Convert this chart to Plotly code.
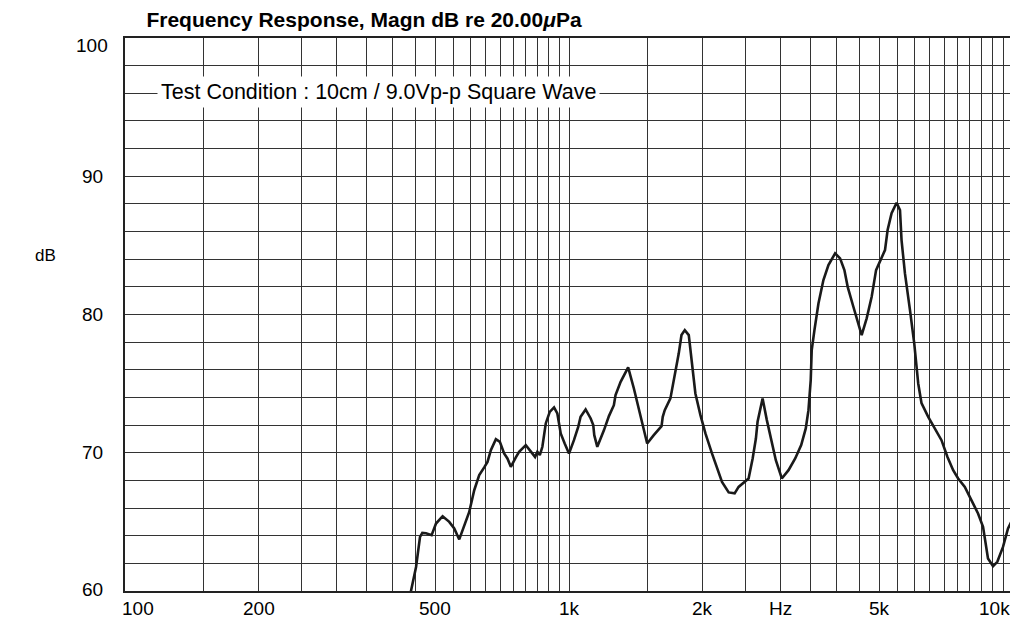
import math
import plotly.graph_objects as go

# ---- data ----
freq_hz = [434, 441, 452.4, 461.8, 467.4, 476.4, 490.4, 501.7, 519.2, 537.4, 551.5, 566.0,
           596.1, 611.7, 627.8, 644.2, 655.3, 666.8, 684.4, 698.7, 714.3, 726.6, 739.6,
           759.0, 772.0, 799.3, 817.3, 838.7, 848.8, 859.5, 871.0, 886.5, 905.0, 925.4,
           941.3, 957.9, 977.9, 1000, 1026, 1049, 1062, 1090, 1119, 1134, 1140, 1158,
           1199, 1230, 1262, 1273, 1307, 1359, 1400, 1449, 1500, 1552, 1616, 1626, 1643,
           1692, 1730, 1767, 1792, 1823, 1861, 1887, 1926, 1977, 2029, 2099, 2166, 2211,
           2289, 2361, 2410, 2474, 2538, 2592, 2636, 2659, 2729, 2790, 2863, 2923, 3015,
           3122, 3232, 3334, 3414, 3462, 3503, 3521, 3571, 3646, 3741, 3840, 3975, 4079,
           4171, 4243, 4370, 4485, 4562, 4682, 4805, 4916, 5018, 5149, 5219, 5328, 5468,
           5565, 5610, 5710, 5861, 5992, 6117, 6222, 6442, 6668, 6901, 7119, 7332, 7524,
           7789, 8059, 8342, 8561, 8664, 8784, 9017, 9219, 9495, 9745, 10000]
magn_db = [59.0, 60.0, 61.74, 63.91, 64.2, 64.18, 64.04, 64.88, 65.41, 65.0, 64.52, 63.73,
           65.72, 67.29, 68.38, 68.94, 69.34, 70.19, 70.98, 70.79, 69.95, 69.59, 68.98,
           69.66, 70.07, 70.55, 70.19, 69.70, 70.07, 69.83, 70.43, 72.12, 72.96, 73.28,
           72.84, 71.4, 70.67, 69.95, 70.91, 71.87, 72.6, 73.13, 72.48, 72.0, 71.27, 70.43,
           71.64, 72.65, 73.44, 74.17, 75.13, 76.17, 74.65, 72.72, 70.67, 71.27, 71.92, 72.6,
           73.08, 73.93, 75.49, 77.19, 78.51, 78.87, 78.51, 76.7, 74.29, 72.72, 71.4, 69.95,
           68.62, 67.89, 67.13, 67.06, 67.53, 67.82, 68.14, 69.59, 71.03, 72.24, 73.93, 72.36,
           70.67, 69.46, 68.14, 68.74, 69.59, 70.55, 71.76, 73.08, 75.25, 77.42, 78.87, 80.8,
           82.49, 83.57, 84.42, 84.06, 83.21, 82.0, 80.56, 79.23, 78.51, 79.72, 81.28, 83.21,
           83.81, 84.66, 86.11, 87.32, 88.08, 87.55, 85.38, 82.97, 80.32, 77.91, 75.01, 73.59,
           72.6, 71.76, 70.91, 69.70, 68.74, 68.14, 67.53, 66.57, 65.61, 64.64, 63.44, 62.35,
           61.79, 62.11, 63.19, 64.52, 65.25]

grid_freqs = ([f for f in range(100, 1001, 50)] + [1500] +
              [f for f in range(2000, 10001, 500)])
x_tick_vals = [100, 200, 500, 1000, 2000, 3000, 5000, 10000]
x_tick_text = ["100", "200", "500", "1k", "2k", "Hz", "5k", "10k"]
y_tick_vals = [100, 90, 80, 70, 60]
y_tick_text = ["100", "90", "80", "70", "60"]

title_text = "<b>Frequency Response, Magn dB re 20.00<i>μ</i>Pa</b>"
note_text = "Test Condition : 10cm / 9.0Vp-p Square Wave"

FONT = "Liberation Sans, Arial, Helvetica, sans-serif"

# the html page adds an 8 px body margin, so the figure is drawn 8 px in
OFF = 8
W, H = 1018 - OFF, 618 - OFF

fig = go.Figure()
fig.add_trace(go.Scatter(
    x=freq_hz, y=magn_db, mode="lines",
    line=dict(color="#1a1a1a", width=2.6),
    hoverinfo="skip", showlegend=False))

fig.update_layout(
    width=W, height=H,
    margin=dict(l=125 - OFF, r=W - (1015 - OFF), t=38 - OFF, b=H - (591 - OFF)),
    paper_bgcolor="white", plot_bgcolor="white",
    font=dict(family=FONT, color="black", size=19),
    title=dict(text=title_text, xref="container", yref="container",
               x=(364 - OFF) / W, xanchor="center", y=1 - (20 - OFF) / H,
               yanchor="middle",
               font=dict(family=FONT, size=21, color="black")),
    showlegend=False,
)
fig.update_xaxes(
    type="log", range=[2, 4],
    tickvals=grid_freqs, showticklabels=False, ticks="",
    showgrid=True, gridcolor="#333333", gridwidth=1.2,
    showline=True, linecolor="#222222", linewidth=1.6, mirror=True,
    zeroline=False)
fig.update_yaxes(
    range=[60, 100], dtick=2, tick0=60,
    showticklabels=False, ticks="",
    showgrid=True, gridcolor="#333333", gridwidth=1.2,
    showline=True, linecolor="#222222", linewidth=1.6, mirror=True,
    zeroline=False)

annotations = []
# x tick labels
for v, t in zip(x_tick_vals, x_tick_text):
    anchor = "center"
    xs = 0
    if v == x_tick_vals[0]:
        anchor, xs = "left", -5
    elif v == x_tick_vals[-1]:
        anchor, xs = "right", -1
    annotations.append(dict(
        x=math.log10(v), xref="x", y=0, yref="paper",
        text=t, showarrow=False, xanchor=anchor, yanchor="top",
        xshift=xs, yshift=-5, font=dict(size=19)))
# y tick labels
for v, t in zip(y_tick_vals, y_tick_text):
    ys = 0
    if v == y_tick_vals[0]:
        ys = -7
    elif v == y_tick_vals[-1]:
        ys = 2
    annotations.append(dict(
        x=(92 - 125) / 890, xref="paper", y=v, yref="y",
        text=t, showarrow=False, xanchor="center", yanchor="middle",
        yshift=ys, font=dict(size=19)))
# axis unit label
annotations.append(dict(
    x=(45 - 125) / 890, xref="paper", y=84.3, yref="y",
    text="dB", showarrow=False, xanchor="center", yanchor="middle",
    font=dict(size=17)))
# test condition note
annotations.append(dict(
    x=(379 - 125) / 890, xref="paper", y=96, yref="y",
    text=note_text, showarrow=False, xanchor="center", yanchor="middle",
    bgcolor="white", borderpad=3, yshift=1, font=dict(size=21.5)))
fig.update_layout(annotations=annotations)

fig.write_html("out.html")
